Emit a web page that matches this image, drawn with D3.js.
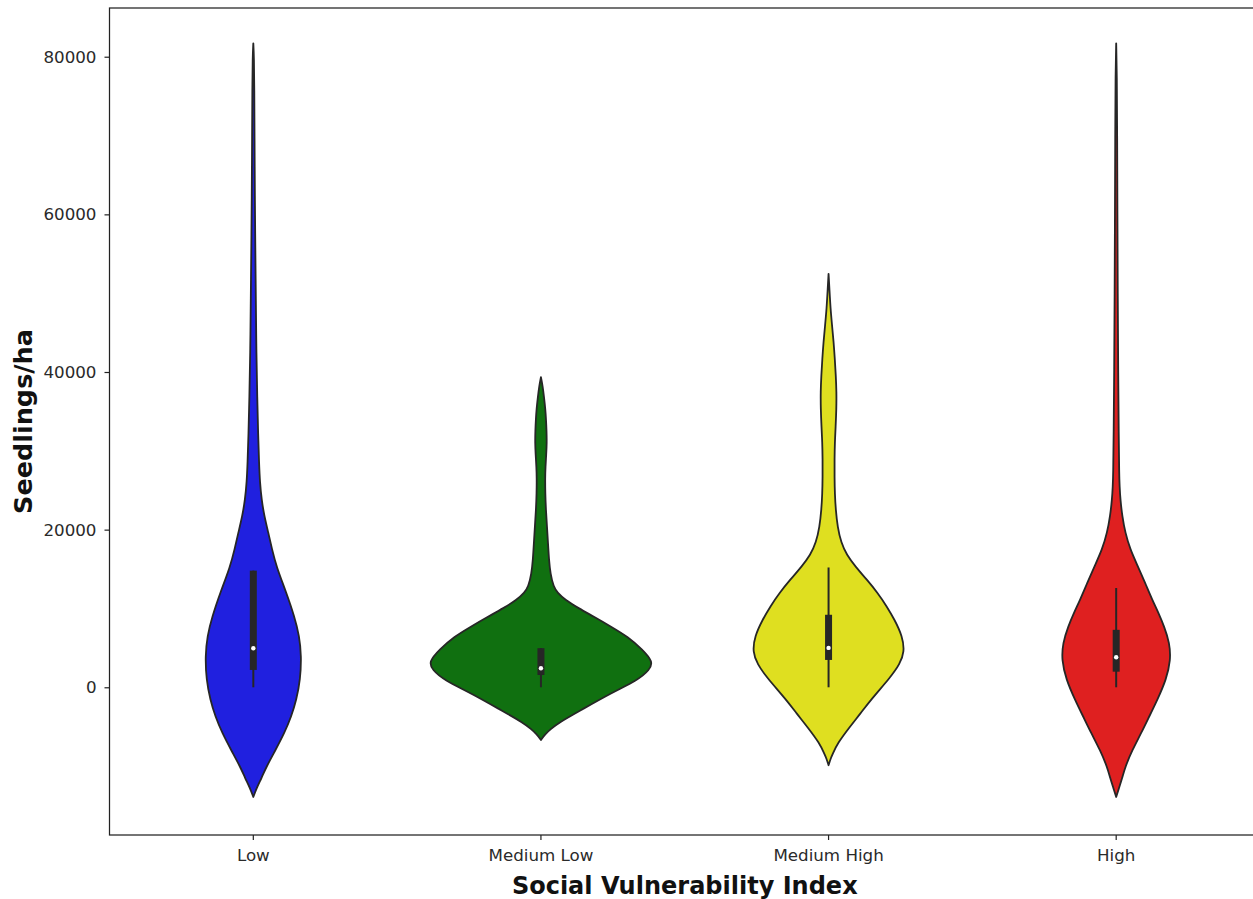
<!DOCTYPE html>
<html>
<head>
<meta charset="utf-8">
<script src="https://cdn.jsdelivr.net/npm/d3@7"></script>
<style>
  body { margin: 0; background: #fff; }
  svg { display: block; }
  text { font-family: "DejaVu Sans", sans-serif; }
</style>
</head>
<body>
<svg id="chart" width="1253" height="899"></svg>
<script>
// Categories and their fill colours
const categories = ["Low", "Medium Low", "Medium High", "High"];
const fillColors = ["#2020df", "#107010", "#dfdf20", "#df2020"];
const yTicks = [0, 20000, 40000, 60000, 80000];

// Kernel density profiles: [seedlings/ha, relative density]
const lowDensity = [
  [-13920, 0], [-12800, .03], [-11500, .075], [-10100, .118], [-8000, .2], [-5815, .282],
  [-3700, .345], [-1616, .391], [1000, .427], [3980, .436], [6500, .418], [8980, .373],
  [12000, .3], [15340, .209], [17500, .17], [19630, .136], [21700, .1], [23830, .075],
  [26000, .06], [28500, .052], [32000, .044], [36550, .036], [43000, .027], [49300, .023],
  [56000, .018], [62000, .014], [70000, .011], [76000, .009], [80000, .006], [81700, 0]
];
const mediumLowDensity = [
  [-6680, 0], [-5900, .04], [-5300, .09], [-4540, .155], [-2890, .364], [-730, .636],
  [930, .882], [2200, .985], [3220, 1.02], [4800, .92], [6400, .791], [7700, .636],
  [8950, .482], [10000, .345], [11110, .218], [12000, .15], [12760, .114], [14400, .086],
  [16200, .073], [18300, .064], [20400, .055], [22500, .045], [24720, .039], [26500, .038],
  [28000, .041], [29500, .048], [31000, .053], [32500, .051], [34000, .046], [35280, .04],
  [36800, .028], [38200, .016], [39350, 0]
];
const mediumHighDensity = [
  [-9885, 0], [-9000, .02], [-8500, .036], [-7090, .082], [-5050, .191], [-3300, .291],
  [-1620, .382], [1310, .564], [2900, .645], [4490, .69], [6500, .67], [8560, .6],
  [10300, .527], [12000, .445], [13700, .345], [15300, .245], [16800, .164], [18360, .114],
  [20300, .082], [22560, .065], [24500, .057], [26760, .054], [29000, .054], [31080, .057],
  [33000, .064], [35280, .071], [37500, .072], [39480, .066], [41600, .057], [43800, .046],
  [46000, .031], [48000, .018], [50500, .008], [52460, 0]
];
const highDensity = [
  [-13920, 0], [-12800, .025], [-11500, .055], [-10100, .082], [-8000, .145], [-5815, .227],
  [-3700, .3], [-1616, .373], [1000, .455], [3470, .495], [5600, .485], [7710, .436],
  [9500, .382], [11110, .327], [13200, .264], [15340, .197], [17500, .127], [19630, .082],
  [21700, .055], [23830, .038], [25500, .031], [27000, .027], [32000, .023], [40000, .018],
  [50000, .014], [60000, .011], [70000, .009], [78000, .006], [81700, 0]
];
const densities = [lowDensity, mediumLowDensity, mediumHighDensity, highDensity];

// Box summaries per category
const q1Values = [2200, 1560, 3470, 1980];
const q3Values = [14800, 4960, 9200, 7290];
const medianValues = [4960, 2420, 5000, 3820];
const whiskerLow = [0, 0, 0, 0];
const whiskerHigh = [14800, 4960, 15200, 12600];

const svg = d3.select("#chart");
const margin = { left: 109.5, right: 1260, top: 8, bottom: 835 };

const x = d3.scaleBand().domain(categories).range([margin.left, margin.right]).padding(0);
const y = d3.scaleLinear().domain([-18740, 86180]).range([margin.bottom, margin.top]);
const halfWidth = d3.scaleLinear().domain([0, 1]).range([0, x.bandwidth() * 0.383]);

const edge = "#262626";

// Violins
categories.forEach((cat, i) => {
  const cx = x(cat) + x.bandwidth() / 2;
  const area = d3.area()
    .y(d => y(d[0]))
    .x0(d => cx - halfWidth(d[1]))
    .x1(d => cx + halfWidth(d[1]))
    .curve(d3.curveBasis);
  svg.append("path")
    .datum(densities[i])
    .attr("d", area)
    .attr("fill", fillColors[i])
    .attr("stroke", edge)
    .attr("stroke-width", 1.8)
    .attr("stroke-linejoin", "round");

  // inner box: whisker, IQR bar, median dot
  svg.append("line")
    .attr("x1", cx).attr("x2", cx)
    .attr("y1", y(whiskerLow[i])).attr("y2", y(whiskerHigh[i]))
    .attr("stroke", edge).attr("stroke-width", 2);
  svg.append("rect")
    .attr("x", cx - 3.5).attr("width", 7)
    .attr("y", y(q3Values[i])).attr("height", y(q1Values[i]) - y(q3Values[i]))
    .attr("fill", edge);
  svg.append("circle")
    .attr("cx", cx).attr("cy", y(medianValues[i]))
    .attr("r", 2.2).attr("fill", "#fff");
});

// Axes
const yAxis = d3.axisLeft(y).tickValues(yTicks).tickSize(5).tickPadding(8).tickFormat(d3.format("d"));
const gy = svg.append("g").attr("transform", `translate(${margin.left},0)`).call(yAxis);
const xAxis = d3.axisBottom(x).tickSize(5).tickPadding(9);
const gx = svg.append("g").attr("transform", `translate(0,${margin.bottom})`).call(xAxis);

[gx, gy].forEach(g => {
  g.select(".domain").remove();
  g.selectAll(".tick line").attr("stroke", "#222").attr("stroke-width", 1.2);
  g.selectAll(".tick text").attr("fill", "#2a2a2a").style("font-size", "16.7px").style("font-family", "DejaVu Sans, sans-serif");
});

// Frame
svg.append("rect")
  .attr("x", margin.left).attr("y", margin.top)
  .attr("width", margin.right - margin.left).attr("height", margin.bottom - margin.top)
  .attr("fill", "none").attr("stroke", "#222").attr("stroke-width", 1.25);

// Axis titles
svg.append("text")
  .attr("x", (margin.left + margin.right) / 2).attr("y", 894)
  .attr("text-anchor", "middle")
  .style("font-size", "24px").style("font-weight", "bold").attr("fill", "#111")
  .text("Social Vulnerability Index");
svg.append("text")
  .attr("transform", `translate(32,${(margin.top + margin.bottom) / 2}) rotate(-90)`)
  .attr("text-anchor", "middle")
  .style("font-size", "25.5px").style("font-weight", "bold").attr("fill", "#111")
  .text("Seedlings/ha");
</script>
</body>
</html>
